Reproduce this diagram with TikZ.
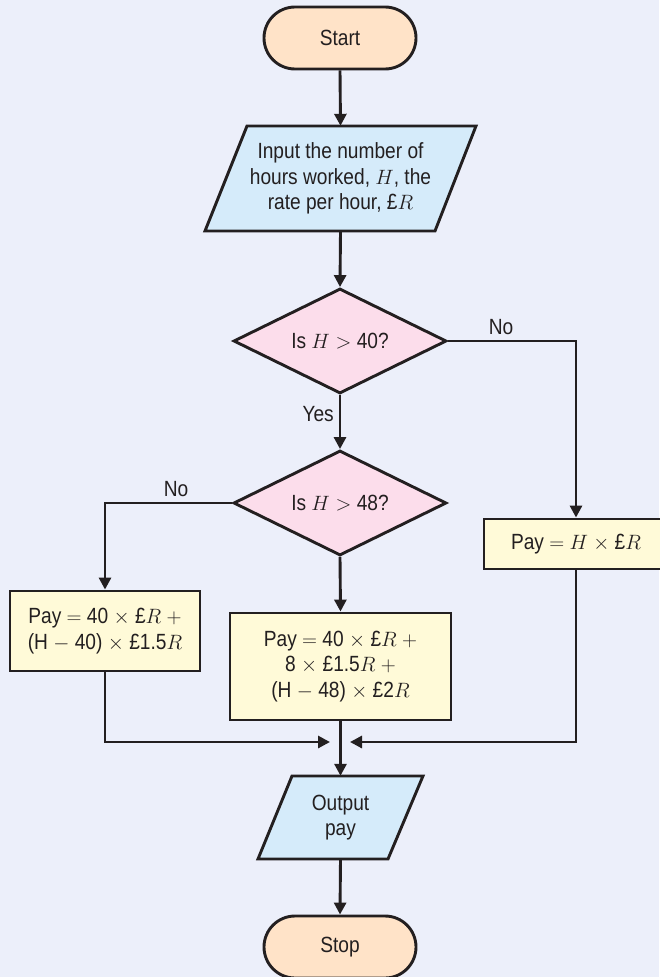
\documentclass[tikz,border=0pt]{standalone}
\usepackage{fontspec}
\setmainfont{Liberation Sans}[FakeStretch=0.87]
\usetikzlibrary{shapes.geometric,arrows.meta,calc}
\definecolor{bgc}{RGB}{236,239,250}
\definecolor{ink}{RGB}{35,31,32}
\definecolor{termc}{RGB}{255,227,200}
\definecolor{ioc}{RGB}{213,235,250}
\definecolor{decc}{RGB}{252,221,235}
\definecolor{procc}{RGB}{255,250,216}
\begin{document}
\begin{tikzpicture}[x=1pt,y=-1pt,
 every node/.style={font=\fontsize{22}{25.5}\selectfont, text=ink},
 line/.style={line width=2.9pt,draw=ink},
 arr/.style={line,-{Triangle[length=12pt,width=12pt]}},
 term/.style={draw=ink,line width=2.9pt,fill=termc,rounded corners=31pt,minimum width=152pt,minimum height=62pt,inner sep=0pt},
 dec/.style={diamond,draw=ink,line width=2.9pt,fill=decc,minimum width=213pt,minimum height=105pt,inner sep=0pt,shape aspect=2},
 proc/.style={draw=ink,line width=2.9pt,fill=procc,inner sep=0pt,align=center},
 para/.style={draw=ink,line width=2.9pt,fill=ioc,line join=miter},
 iotext/.style={inner sep=0pt,align=center},
 lab/.style={inner sep=0pt}
]
\fill[bgc] (0,0) rectangle (659,977);
\useasboundingbox (0,0) rectangle (659,977);

% terminals
\node[term] (start) at (340,38) {Start};
\node[term] (stop) at (340,947) {Stop};

% input parallelogram
\filldraw[para] (205,231) -- (435,231) -- (476,126) -- (247,126) -- cycle;
\node[iotext,minimum width=230pt,minimum height=105pt] (in) at (340.5,178.5)
  {Input the number of\\hours worked, $H$, the\\rate per hour, £$R$};

% decisions
\node[dec] (d1) at (340,341) {Is $H >$ 40?};
\node[dec] (d2) at (340,503) {Is $H >$ 48?};

% process boxes
\node[proc,minimum width=190pt,minimum height=80pt] (pl) at (105,631)
  {Pay $=$ 40 $\times$ £$R$ $+$\\(H $-$ 40) $\times$ £1.5$R$};
\node[proc,minimum width=221pt,minimum height=107pt] (pm) at (340.5,666.5)
  {Pay $=$ 40 $\times$ £$R$ $+$\\8 $\times$ £1.5$R$ $+$\\(H $-$ 48) $\times$ £2$R$};
\node[proc,minimum width=184pt,minimum height=50pt] (pr) at (576,544)
  {Pay $=$ $H$ $\times$ £$R$};

% output parallelogram
\filldraw[para] (258,859) -- (388,859) -- (423,776) -- (292,776) -- cycle;
\node[iotext,minimum width=130pt,minimum height=83pt] (out) at (340.5,817.5)
  {Output\\pay};

% merge points
\coordinate (mL) at (330,742);
\coordinate (mR) at (350,742);

% connectors
\draw[arr] (start.south) -- (in.north);
\draw[arr] (in.south) -- (d1.north);
\draw[arr] (d1.east) -| (pr.north);
\draw[arr] (d1.south) -- (d2.north);
\draw[arr] (d2.west) -| (pl.north);
\draw[arr] (d2.south) -- (pm.north);
\draw[arr] (pm.south) -- (out.north);
\draw[arr] (pl.south) |- (mL);
\draw[arr] (pr.south) |- (mR);
\draw[arr] (out.south) -- (stop.north);

% labels
\node[lab] (lno1) at (501,327) {No};
\node[lab,anchor=east] (lyes) at (334,414) {Yes};
\node[lab] (lno2) at (176,489) {No};
\end{tikzpicture}
\end{document}
